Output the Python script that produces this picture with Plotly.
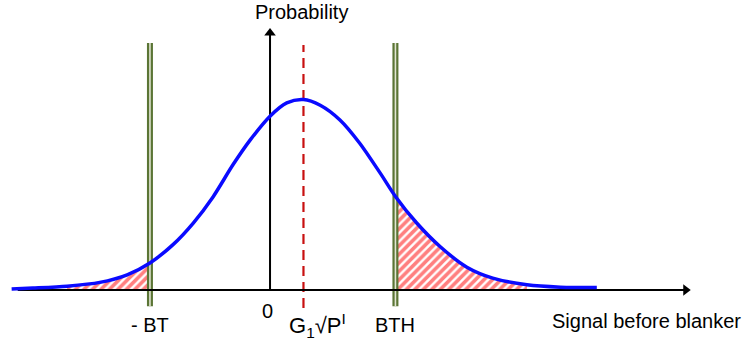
import plotly.graph_objects as go

# ---- data (signal units, probability) ----
curve_x = [-3.40, -3.12, -2.67, -2.24, -1.88, -1.58, -1.28, -1.01, -0.75, -0.49,
           -0.26, 0.00, 0.22, 0.44, 0.66, 0.92, 1.18, 1.45, 1.65, 1.93,
           2.24, 2.59, 2.93, 3.38, 3.82, 4.30]
curve_y = [0.002, 0.004, 0.008, 0.016, 0.032, 0.057, 0.095, 0.141, 0.196, 0.263,
           0.316, 0.366, 0.394, 0.401, 0.389, 0.358, 0.309, 0.246, 0.197, 0.141,
           0.091, 0.048, 0.025, 0.011, 0.006, 0.005]

BT = -1.58          # "- BT" threshold
BTH = 1.65          # "BTH" threshold
MEAN = 0.44         # G1 sqrt(P^I)
LEFT_HATCH_START = -2.67
RIGHT_HATCH_END = 3.38

X_RANGE = [-3.553, 6.276]
Y_RANGE = [-0.1116, 0.6105]
AXIS_X = [-3.32, 5.47]
AXIS_Y = [0.0, 0.541]
MARK_Y = [-0.034, 0.52]
DASH_Y = [-0.038, 0.516]

labels = {
    "prob": "Probability",
    "signal": "Signal before blanker",
    "zero": "0",
    "bt": "- BT",
    "bth": "BTH",
    "mean": "G<sub>1</sub>\u221aP<sup>I</sup>",
}

left = [(x, y) for x, y in zip(curve_x, curve_y) if LEFT_HATCH_START <= x <= BT]
right = [(x, y) for x, y in zip(curve_x, curve_y) if BTH <= x <= RIGHT_HATCH_END]

fig = go.Figure()

hatch = dict(shape="/", fgcolor="#ff0000", bgcolor="rgba(255,255,255,0)", size=6, solidity=0.6)
for seg in (left, right):
    fig.add_trace(go.Scatter(
        x=[p[0] for p in seg], y=[p[1] for p in seg], mode="lines",
        line=dict(width=0, shape="spline", smoothing=0.8),
        fill="tozeroy", fillpattern=hatch, fillcolor="rgba(255,255,255,0)",
        hoverinfo="skip", showlegend=False))

# double green threshold lines
for xv in (BT, BTH):
    fig.add_trace(go.Scatter(x=[xv, xv], y=MARK_Y, mode="lines",
                             line=dict(color="#5b7535", width=6), showlegend=False, hoverinfo="skip"))
    fig.add_trace(go.Scatter(x=[xv, xv], y=MARK_Y, mode="lines",
                             line=dict(color="#e2e6d4", width=1.6), showlegend=False, hoverinfo="skip"))

# red dashed mean line
fig.add_trace(go.Scatter(x=[MEAN, MEAN], y=DASH_Y, mode="lines",
                         line=dict(color="#c81010", width=2.2, dash="10px,6px"),
                         showlegend=False, hoverinfo="skip"))

# axes lines
fig.add_trace(go.Scatter(x=AXIS_X, y=[0, 0], mode="lines",
                         line=dict(color="black", width=2), showlegend=False, hoverinfo="skip"))
fig.add_trace(go.Scatter(x=[0, 0], y=AXIS_Y, mode="lines",
                         line=dict(color="black", width=2), showlegend=False, hoverinfo="skip"))

# blue probability curve
fig.add_trace(go.Scatter(x=curve_x, y=curve_y, mode="lines",
                         line=dict(color="#0a0aff", width=3.5, shape="spline", smoothing=0.8),
                         showlegend=False, hoverinfo="skip"))

# arrowheads
fig.add_trace(go.Scatter(x=[AXIS_X[1]], y=[0], mode="markers",
                         marker=dict(symbol="triangle-right", size=10, color="black", line=dict(width=0)),
                         showlegend=False, hoverinfo="skip"))
fig.add_trace(go.Scatter(x=[0], y=[AXIS_Y[1]], mode="markers",
                         marker=dict(symbol="triangle-up", size=10, color="black", line=dict(width=0)),
                         showlegend=False, hoverinfo="skip"))

font = dict(family="Liberation Sans, Arial, sans-serif", size=20, color="black")
txt = [
    (labels["prob"], 0.42, 0.585, 20),
    (labels["signal"], 4.96, -0.066, 20),
    (labels["zero"], -0.03, -0.044, 20),
    (labels["bt"], BT, -0.074, 20),
    (labels["bth"], BTH, -0.074, 20),
    (labels["mean"], MEAN + 0.19, -0.074, 22),
]
for t, x, y, s in txt:
    fig.add_annotation(x=x, y=y, xref="x", yref="y", text=t, showarrow=False,
                       font=dict(font, size=s), xanchor="center", yanchor="middle")

fig.update_layout(
    width=747, height=343, margin=dict(l=0, r=0, t=0, b=0),
    paper_bgcolor="white", plot_bgcolor="white", showlegend=False,
    xaxis=dict(range=X_RANGE, visible=False, fixedrange=True),
    yaxis=dict(range=Y_RANGE, visible=False, fixedrange=True),
)

fig.write_html("out.html")
